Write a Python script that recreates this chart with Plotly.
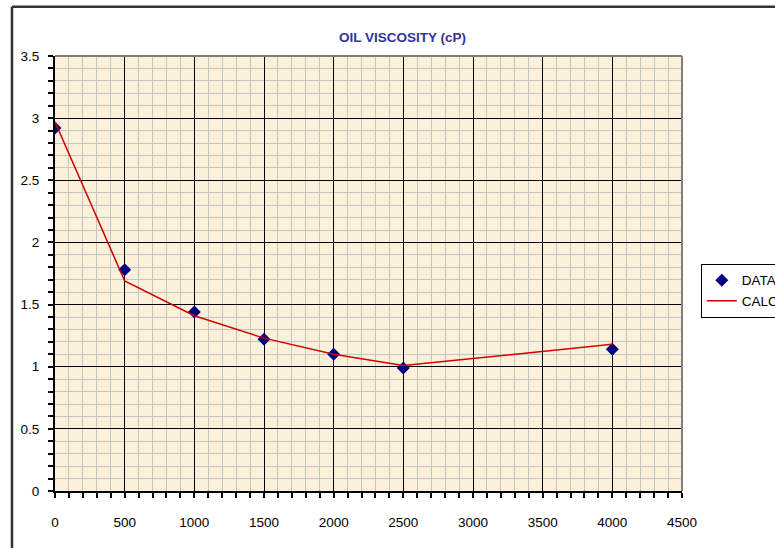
import plotly.graph_objects as go

# Data
pressure_data = [0, 500, 1000, 1500, 2000, 2500, 4000]
visc_data = [2.92, 1.78, 1.44, 1.22, 1.10, 0.99, 1.14]

pressure_calc = [0, 500, 1000, 1500, 2000, 2500, 4000]
visc_calc = [2.97, 1.69, 1.41, 1.23, 1.10, 1.01, 1.18]

x_ticks = [0, 500, 1000, 1500, 2000, 2500, 3000, 3500, 4000, 4500]
y_ticks = [0, 0.5, 1, 1.5, 2, 2.5, 3, 3.5]

FONT = "Liberation Sans, Arial, sans-serif"

fig = go.Figure()
fig.add_trace(go.Scatter(
    x=pressure_data, y=visc_data, mode="markers", name="DATA",
    marker=dict(symbol="diamond", size=10, color="#000080"),
))
fig.add_trace(go.Scatter(
    x=pressure_calc, y=visc_calc, mode="lines", name="CALC",
    line=dict(color="#D00000", width=1.5),
))

axis_common = dict(
    showline=True, linecolor="black", linewidth=2,
    showgrid=True, gridcolor="black", gridwidth=1.3,
    zeroline=False,
    ticks="outside", ticklen=5, tickwidth=1.5, tickcolor="black",
    tickfont=dict(family=FONT, size=13.5, color="black"),
)

fig.update_xaxes(
    range=[0, 4500], tickvals=x_ticks, ticktext=[str(v) for v in x_ticks],
    minor=dict(dtick=100, showgrid=True, gridcolor="#C4C4C4", gridwidth=1,
               ticks="outside", ticklen=5, tickcolor="black", tickwidth=1.5),
    ticklabelstandoff=13,
    **axis_common,
)
fig.update_yaxes(
    range=[0, 3.5], tickvals=y_ticks, ticktext=[f"{v:g}" for v in y_ticks],
    minor=dict(dtick=0.1, showgrid=True, gridcolor="#C4C4C4", gridwidth=1,
               ticks="outside", ticklen=5, tickcolor="black", tickwidth=1.5),
    ticklabelstandoff=6,
    **axis_common,
)

frame = dict(color="#333333", width=2.5)
fig.update_layout(
    width=775, height=548,
    margin=dict(l=55, r=93, t=56, b=57, autoexpand=False),
    paper_bgcolor="white",
    plot_bgcolor="#FBF0D9",
    showlegend=True,
    legend=dict(
        x=1.03, y=0.522, xanchor="left", yanchor="top",
        bordercolor="black", borderwidth=1, bgcolor="white",
        font=dict(family=FONT, size=13.5, color="black"),
        tracegroupgap=0,
    ),
    annotations=[dict(
        text="<b>OIL VISCOSITY (cP)</b>", xref="paper", yref="paper",
        x=0.555, y=1.0425, xanchor="center", yanchor="middle", showarrow=False,
        font=dict(family=FONT, size=13.5, color="#333399"),
    )],
    shapes=[
        # gray top and right plot-area border
        dict(type="line", xref="paper", yref="paper", x0=0, x1=1, y0=1, y1=1,
             line=dict(color="#808080", width=2), layer="above"),
        dict(type="line", xref="paper", yref="paper", x0=1, x1=1, y0=0, y1=1,
             line=dict(color="#808080", width=2), layer="above"),
        # outer chart frame (top and left edges visible)
        dict(type="line", xref="paper", yref="paper",
             x0=-0.0686, x1=1.2, y0=1.113, y1=1.113,
             line=frame, layer="above"),
        dict(type="line", xref="paper", yref="paper",
             x0=-0.0686, x1=-0.0686, y0=-0.2, y1=1.113,
             line=frame, layer="above"),
    ],
)

fig.write_html("out.html", post_script="document.body.style.margin='0';",
               config={"displayModeBar": False})
